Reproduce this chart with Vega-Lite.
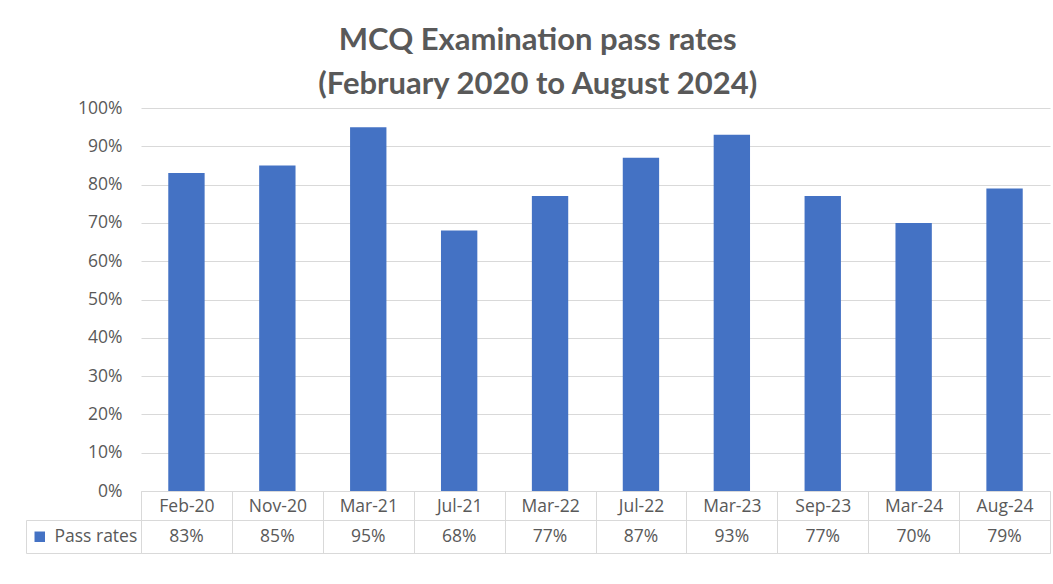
{
  "$schema": "https://vega.github.io/schema/vega-lite/v6.json",
  "background": "white",
  "padding": {"left": 25, "top": 25, "right": 4, "bottom": 8},
  "bounds": "flush",
  "spacing": 29,
  "title": {
    "text": ["MCQ Examination pass rates", "(February 2020 to August 2024)"],
    "font": "Lato",
    "fontSize": 31,
    "fontWeight": "bold",
    "color": "#595959",
    "anchor": "middle",
    "frame": "bounds",
    "lineHeight": 44,
    "offset": -2
  },
  "config": {
    "font": "Open Sans",
    "view": {"stroke": null},
    "axis": {"labelFont": "Open Sans", "labelFontSize": 17.5, "labelColor": "#595959"},
    "legend": {"labelFont": "Open Sans", "labelFontSize": 17.5, "labelColor": "#595959"}
  },
  "data": {
    "values": [
      {"period": "Feb-20", "rate": 0.83, "series": "Pass rates"},
      {"period": "Nov-20", "rate": 0.85, "series": "Pass rates"},
      {"period": "Mar-21", "rate": 0.95, "series": "Pass rates"},
      {"period": "Jul-21", "rate": 0.68, "series": "Pass rates"},
      {"period": "Mar-22", "rate": 0.77, "series": "Pass rates"},
      {"period": "Jul-22", "rate": 0.87, "series": "Pass rates"},
      {"period": "Mar-23", "rate": 0.93, "series": "Pass rates"},
      {"period": "Sep-23", "rate": 0.77, "series": "Pass rates"},
      {"period": "Mar-24", "rate": 0.70, "series": "Pass rates"},
      {"period": "Aug-24", "rate": 0.79, "series": "Pass rates"}
    ]
  },
  "vconcat": [
    {
      "width": 909,
      "height": 383,
      "mark": {"type": "bar", "width": {"band": 0.4}},
      "encoding": {
        "x": {
          "field": "period", "type": "nominal", "sort": null,
          "scale": {"paddingInner": 0, "paddingOuter": 0},
          "axis": {
            "title": null, "labelAngle": 0, "tickBand": "extent", "tickSize": 30,
            "tickColor": "#d9d9d9", "domainColor": "#d9d9d9", "labelPadding": -24,
            "labelBaseline": "top"
          }
        },
        "y": {
          "field": "rate", "type": "quantitative",
          "scale": {"domain": [0, 1]},
          "axis": {
            "title": null, "format": ".0%", "values": [0, 0.1, 0.2, 0.3, 0.4, 0.5, 0.6, 0.7, 0.8, 0.9, 1],
            "domain": false, "ticks": false, "labelPadding": 19, "gridColor": "#d9d9d9"
          }
        },
        "color": {
          "field": "series", "type": "nominal",
          "scale": {"range": ["#4472C4"]},
          "legend": {
            "title": null, "orient": "none", "legendX": -110, "legendY": 420,
            "symbolType": "square", "symbolSize": 110, "symbolStrokeWidth": 0, "labelOffset": 6
          }
        }
      }
    },
    {
      "width": 909,
      "height": 33,
      "view": {"stroke": "#d9d9d9"},
      "mark": {"type": "text", "font": "Open Sans", "fontSize": 17.5, "color": "#595959"},
      "encoding": {
        "x": {
          "field": "period", "type": "nominal", "sort": null,
          "scale": {"paddingInner": 0, "paddingOuter": 0},
          "axis": {
            "title": null, "labels": false, "ticks": false, "domain": false,
            "grid": true, "tickBand": "extent", "gridColor": "#d9d9d9", "gridOpacity": 1
          }
        },
        "y": {
          "field": "series", "type": "nominal",
          "axis": {
            "title": null, "labels": false, "offset": 115, "tickSize": -115,
            "tickBand": "extent", "tickColor": "#d9d9d9", "domainColor": "#d9d9d9"
          }
        },
        "text": {"field": "rate", "type": "quantitative", "format": ".0%"}
      }
    }
  ]
}
